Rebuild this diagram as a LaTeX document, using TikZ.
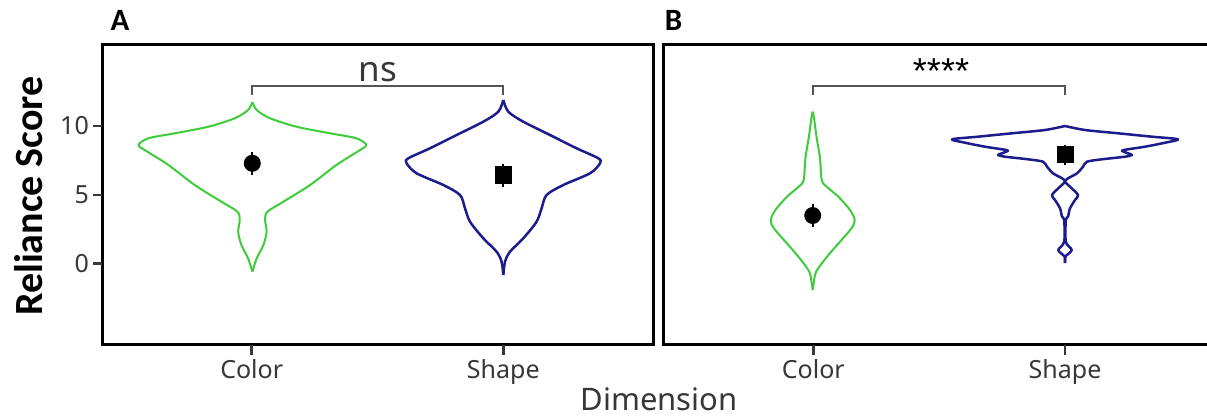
\documentclass[tikz,border=0pt]{standalone}
\usepackage{fontspec}
\setmainfont{Noto Sans}
\newfontfamily\calibrifont{Carlito}
\newfontfamily\arialfont{Liberation Sans}
\definecolor{vgreen}{RGB}{62,204,58}
\definecolor{vblue}{RGB}{28,28,140}
\definecolor{labgray}{RGB}{55,55,55}
\definecolor{brgray}{RGB}{85,85,85}
\newcommand\drawviolin[3]{%
  \foreach \s in {1,-1}{\draw[#1, shift={(#2,0)}, xscale=\s] plot[smooth, tension=0.5] coordinates {#3};}%
}
\begin{document}
\begin{tikzpicture}[x=1pt,y=-1pt,
  frame/.style={line width=3pt, black, line cap=rect},
  tickmark/.style={line width=2.5pt, labgray},
  bracket/.style={line width=2pt, brgray},
  gviolin/.style={draw=vgreen, line width=2pt, line join=round},
  bviolin/.style={draw=vblue, line width=2.5pt, line join=round},
  ticklab/.style={text=labgray, font=\fontsize{25}{30}\selectfont, inner sep=0pt},
  catlab/.style={text=labgray, font=\fontsize{25}{30}\selectfont, inner sep=0pt, anchor=base},
  panellab/.style={font=\calibrifont\bfseries\fontsize{31}{36}\selectfont, inner sep=0pt, anchor=base},
  meanmark/.style={fill=black}
]
\useasboundingbox (0,0) rectangle (1207,417);
\fill[white] (0,0) rectangle (1207,417);

% frames
\coordinate (A-tl) at (102,44.3);
\coordinate (A-br) at (653.3,344.3);
\draw[frame] (A-tl) rectangle (A-br);
\coordinate (B-tr) at (1207,44.3);
\coordinate (B-tl) at (663.3,44.3);
\coordinate (B-bl) at (663.3,344.3);
\coordinate (B-br) at (1207,344.3);
\draw[frame, line cap=butt] (B-tr) -- (B-tl) -- (B-bl) -- (B-br);

% y ticks
\foreach \v/\yy in {10/126,5/195,0/263.3}{
  \draw[tickmark] (93,\yy) -- (102,\yy);
  \node[ticklab, anchor=east] (ytick\v) at (89,\yy) {\v};
}
% x ticks
\foreach \xx/\nm in {251.7/aC,503.3/aS,813.3/bC,1065/bS}{
  \draw[tickmark] (\xx,345) -- (\xx,355);
}
\node[catlab] (labAC) at (251.7,378) {Color};
\node[catlab] (labAS) at (503.3,378) {Shape};
\node[catlab] (labBC) at (813.3,378) {Color};
\node[catlab] (labBS) at (1065,378) {Shape};

\node[text=labgray, font=\fontsize{31}{36}\selectfont, inner sep=0pt, anchor=base] (dim) at (659,410.5) {Dimension};
\node[rotate=90, font=\calibrifont\bfseries\fontsize{40}{48}\selectfont, inner sep=0pt] (ylab) at (29,196) {Reliance Score};

\node[panellab] (pA) at (120,31) {A};
\node[panellab] (pB) at (673.5,31) {B};

% brackets
\coordinate (brA1) at (251.7,95);
\coordinate (brA2) at (503.3,95);
\draw[bracket] (brA1) -- (251.7,86) -- (503.3,86) -- (brA2);
\node[text=labgray, font=\fontsize{35}{40}\selectfont, inner sep=0pt, anchor=base] (ns) at (378,82) {ns};
\coordinate (brB1) at (813.3,95);
\coordinate (brB2) at (1065,95);
\draw[bracket] (brB1) -- (813.3,86) -- (1065,86) -- (brB2);
\node[font=\arialfont\fontsize{36}{40}\selectfont, inner sep=0pt, anchor=base] (stars) at (941,84) {****};

% violins
\drawviolin{gviolin}{252.4}{(0,102) (4.3,110) (17.7,118.3) (44,126.7) (77.7,133.3) (104,138.3) (114,145) (107.7,150) (84,165) (57.7,185) (31,201.7) (15,211.7) (12.7,220) (14.2,231.7) (11,245) (4.3,258.3) (0,271.7)}
\drawviolin{bviolin}{503.3}{(0,100) (5,111.7) (20,121.7) (46.7,135) (73.3,148.3) (95,158.3) (96.7,163.3) (86.7,173.3) (60,185) (43.3,195) (38.3,208.3) (33.3,221.7) (20,238.3) (6.7,251.7) (1.7,261.7) (0,275)}
\drawviolin{gviolin}{812.7}{(0,111.7) (1.3,118) (4,138) (7.3,158) (9,180) (14,186.7) (25.7,196.7) (37.3,210) (42,220) (39,228) (27.3,241.7) (15.7,255) (5.7,268) (2.3,275) (0,290)}
\drawviolin{bviolin}{1065}{(0,126) (20,130) (53,133.3) (87,136.7) (113,139.3) (100,142.7) (80,146.7) (63,149.3) (57,150.7) (63,153.3) (67,155) (60,156.7) (37,159.3) (22,161.7) (18,166.7) (12,173.3) (3,178.3) (0,181.7) (5,186.7) (13,195) (10,200) (5,208.3) (3,216.7) (0.8,220) (0.8,241.7) (6.7,250) (0.5,256.5) (0,263)}

% means
\draw[line width=2pt] (252.3,152) -- (252.3,175);
\fill[meanmark] (252.3,163.3) circle (8.5pt);
\draw[line width=2pt] (503.3,164) -- (503.3,187);
\fill[meanmark] (494.8,166) rectangle (511.8,184);
\draw[line width=2pt] (812.7,204) -- (812.7,227);
\fill[meanmark] (812.7,215.5) circle (8.5pt);
\draw[line width=2pt] (1065,145) -- (1065,165);
\fill[meanmark] (1056.5,146) rectangle (1073.5,163);
\end{tikzpicture}
\end{document}
